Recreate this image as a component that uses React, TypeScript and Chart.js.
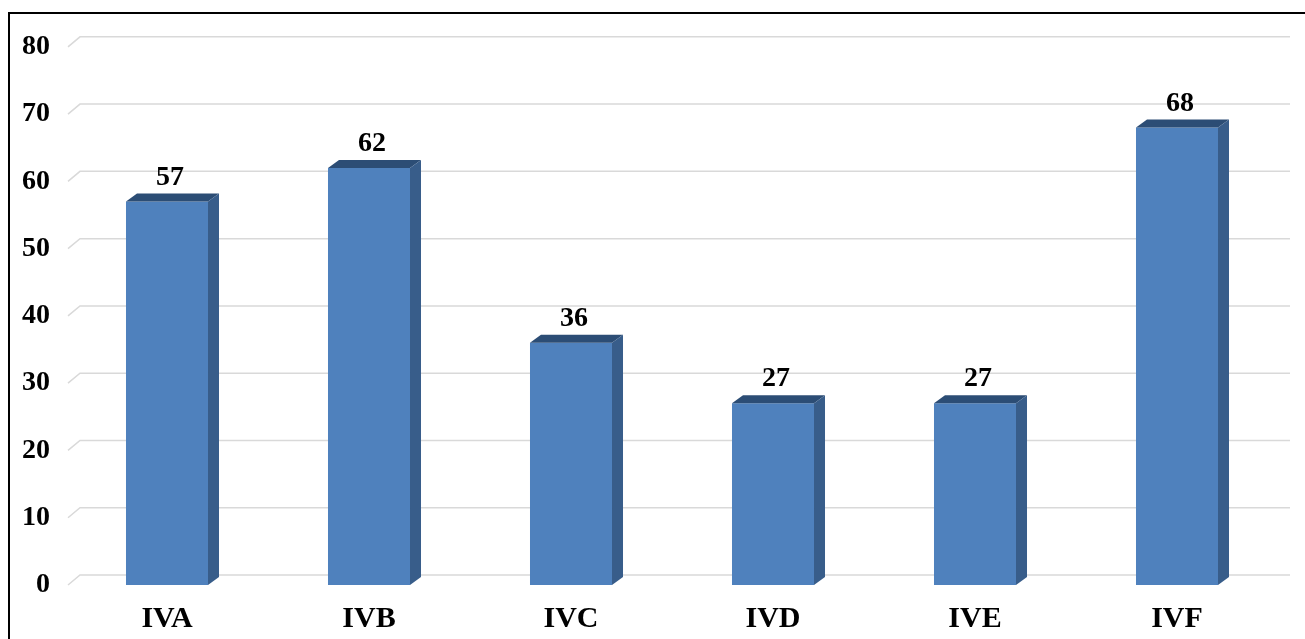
import React, { useEffect, useRef } from "react";
import { Chart, registerables } from "chart.js";

Chart.register(...registerables);

const categories = ["IVA", "IVB", "IVC", "IVD", "IVE", "IVF"];
const values = [57, 62, 36, 27, 27, 68];
const yTicks = [0, 10, 20, 30, 40, 50, 60, 70, 80];

const FONT = "'Liberation Serif', 'Times New Roman', serif";
const FRONT = "#4F81BD";
const TOP = "#2C4D75";
const SIDE = "#385D8A";
const BAR_DX = 11;
const BAR_DY = 8;
const GRID_DX = 12;
const GRID_DY = 10;

const threeD = {
  id: "threeD",
  beforeDatasetsDraw(chart: any) {
    const { ctx, chartArea, scales } = chart;
    const y = scales.y;
    ctx.save();
    ctx.strokeStyle = "#d9d9d9";
    ctx.lineWidth = 1.5;
    yTicks.forEach((v) => {
      const py = y.getPixelForValue(v);
      ctx.beginPath();
      ctx.moveTo(chartArea.left + 2, py);
      ctx.lineTo(chartArea.left + 2 + GRID_DX, py - GRID_DY);
      ctx.lineTo(chartArea.right + GRID_DX, py - GRID_DY);
      ctx.stroke();
    });
    ctx.restore();
  },
  afterDatasetsDraw(chart: any) {
    const { ctx } = chart;
    const meta = chart.getDatasetMeta(0);
    ctx.save();
    meta.data.forEach((bar: any, i: number) => {
      const { x, y, base, width } = bar.getProps(["x", "y", "base", "width"], true);
      const l = x - width / 2;
      const r = x + width / 2;
      ctx.fillStyle = TOP;
      ctx.beginPath();
      ctx.moveTo(l, y);
      ctx.lineTo(l + BAR_DX, y - BAR_DY);
      ctx.lineTo(r + BAR_DX, y - BAR_DY);
      ctx.lineTo(r, y);
      ctx.closePath();
      ctx.fill();
      ctx.fillStyle = SIDE;
      ctx.beginPath();
      ctx.moveTo(r, y);
      ctx.lineTo(r + BAR_DX, y - BAR_DY);
      ctx.lineTo(r + BAR_DX, base - BAR_DY);
      ctx.lineTo(r, base);
      ctx.closePath();
      ctx.fill();
      ctx.fillStyle = "#000";
      ctx.font = `bold 28px ${FONT}`;
      ctx.textAlign = "center";
      ctx.textBaseline = "alphabetic";
      ctx.fillText(String(values[i]), x + 3, y - 17);
    });
    ctx.restore();
  },
};

export default function App() {
  const ref = useRef<HTMLCanvasElement>(null);
  useEffect(() => {
    if (!ref.current) return;
    const chart = new Chart(ref.current, {
      type: "bar",
      data: {
        labels: categories,
        datasets: [
          {
            data: values,
            backgroundColor: FRONT,
            borderWidth: 0,
            barPercentage: 1,
            categoryPercentage: 0.406,
          },
        ],
      },
      options: {
        animation: false,
        responsive: false,
        maintainAspectRatio: false,
        layout: { padding: { top: 31, right: 27, bottom: 3, left: 0 } },
        plugins: { legend: { display: false }, tooltip: { enabled: false } },
        scales: {
          x: {
            grid: { display: false, drawTicks: false },
            border: { display: false },
            ticks: {
              color: "#000",
              padding: 16,
              font: { family: FONT, size: 30, weight: "bold" },
            },
          },
          y: {
            min: 0,
            max: 80,
            grid: { display: false, drawTicks: false },
            border: { display: false },
            afterFit: (s: any) => {
              s.width = 56;
            },
            ticks: {
              stepSize: 10,
              color: "#000",
              padding: 16,
              font: { family: FONT, size: 28, weight: "bold" },
            },
          },
        },
      },
      plugins: [threeD],
    });
    return () => chart.destroy();
  }, []);
  return (
    <div
      style={{
        position: "fixed",
        left: 8,
        top: 12,
        width: 1297,
        height: 644,
        borderTop: "2px solid #000",
        borderLeft: "2px solid #000",
        background: "#fff",
      }}
    >
      <canvas ref={ref} width={1295} height={642} style={{ display: "block" }} />
    </div>
  );
}
